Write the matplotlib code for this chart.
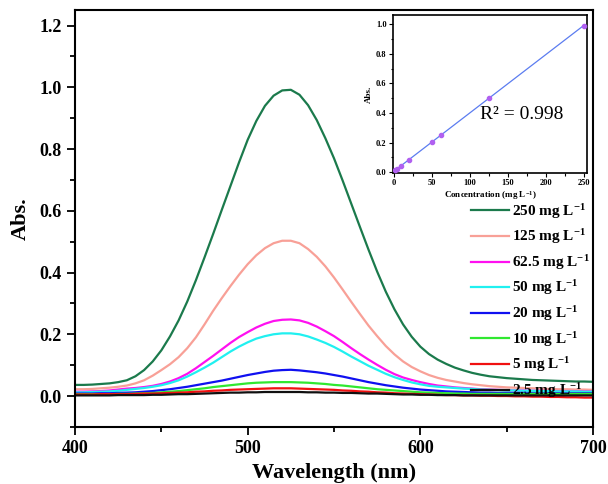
import numpy as np
import matplotlib
matplotlib.use("Agg")
import matplotlib.pyplot as plt
from matplotlib.ticker import MultipleLocator

plt.rcParams['font.family'] = ['Liberation Serif', 'DejaVu Serif']
plt.rcParams['font.weight'] = 'bold'
plt.rcParams['mathtext.fontset'] = 'custom'
plt.rcParams['mathtext.rm'] = 'Liberation Serif:bold'
plt.rcParams['mathtext.it'] = 'Liberation Serif:bold:italic'
plt.rcParams['mathtext.bf'] = 'Liberation Serif:bold'
plt.rcParams['mathtext.default'] = 'rm'

# wavelength grid, 400..700 nm every 5 nm
wavelength = list(range(400, 701, 5))

abs_250 = [0.036, 0.036, 0.037, 0.039, 0.041, 0.045, 0.051, 0.064, 0.084, 0.112,
           0.148, 0.193, 0.245, 0.306, 0.375, 0.449, 0.525, 0.603, 0.680, 0.757,
           0.830, 0.891, 0.940, 0.973, 0.990, 0.992, 0.976, 0.942, 0.894, 0.835,
           0.770, 0.698, 0.623, 0.548, 0.474, 0.403, 0.338, 0.281, 0.232, 0.192,
           0.160, 0.136, 0.118, 0.104, 0.092, 0.083, 0.075, 0.069, 0.064, 0.061,
           0.058, 0.056, 0.054, 0.052, 0.051, 0.050, 0.049, 0.048, 0.047, 0.047,
           0.046]
abs_125 = [0.022, 0.022, 0.023, 0.025, 0.027, 0.030, 0.034, 0.041, 0.051, 0.066,
           0.084, 0.103, 0.126, 0.155, 0.190, 0.232, 0.276, 0.317, 0.356, 0.393,
           0.427, 0.456, 0.479, 0.495, 0.503, 0.503, 0.495, 0.476, 0.451, 0.420,
           0.384, 0.345, 0.305, 0.266, 0.228, 0.194, 0.162, 0.135, 0.112, 0.094,
           0.080, 0.068, 0.059, 0.052, 0.047, 0.042, 0.038, 0.035, 0.032, 0.030,
           0.028, 0.027, 0.026, 0.025, 0.024, 0.023, 0.022, 0.022, 0.021, 0.021,
           0.020]
abs_62_5 = [0.014, 0.014, 0.015, 0.016, 0.018, 0.021, 0.024, 0.026, 0.029, 0.033,
            0.039, 0.047, 0.058, 0.072, 0.090, 0.110, 0.130, 0.151, 0.172, 0.191,
            0.207, 0.222, 0.234, 0.243, 0.247, 0.248, 0.245, 0.237, 0.225, 0.210,
            0.194, 0.175, 0.155, 0.136, 0.118, 0.101, 0.085, 0.071, 0.060, 0.052,
            0.045, 0.039, 0.034, 0.031, 0.028, 0.026, 0.024, 0.022, 0.021, 0.020,
            0.019, 0.018, 0.018, 0.017, 0.017, 0.016, 0.016, 0.016, 0.016, 0.015,
            0.015]
abs_50 = [0.012, 0.012, 0.013, 0.014, 0.015, 0.017, 0.020, 0.023, 0.026, 0.030,
          0.035, 0.042, 0.051, 0.063, 0.077, 0.092, 0.108, 0.126, 0.144, 0.160,
          0.174, 0.186, 0.194, 0.200, 0.203, 0.203, 0.200, 0.193, 0.183, 0.172,
          0.159, 0.144, 0.128, 0.113, 0.098, 0.085, 0.072, 0.061, 0.052, 0.044,
          0.038, 0.033, 0.030, 0.028, 0.026, 0.024, 0.023, 0.021, 0.020, 0.019,
          0.018, 0.018, 0.017, 0.017, 0.016, 0.016, 0.015, 0.015, 0.015, 0.014,
          0.014]
abs_20 = [0.008, 0.008, 0.008, 0.009, 0.009, 0.010, 0.011, 0.012, 0.014, 0.016,
          0.019, 0.022, 0.026, 0.030, 0.035, 0.040, 0.045, 0.050, 0.056, 0.062,
          0.068, 0.073, 0.078, 0.082, 0.084, 0.085, 0.083, 0.080, 0.077, 0.073,
          0.068, 0.063, 0.057, 0.051, 0.045, 0.040, 0.035, 0.031, 0.027, 0.024,
          0.021, 0.019, 0.017, 0.015, 0.014, 0.013, 0.012, 0.011, 0.011, 0.010,
          0.010, 0.010, 0.010, 0.009, 0.009, 0.009, 0.009, 0.009, 0.009, 0.009,
          0.009]
abs_10 = [0.006, 0.006, 0.006, 0.006, 0.006, 0.007, 0.007, 0.008, 0.009, 0.010,
          0.012, 0.014, 0.016, 0.019, 0.022, 0.025, 0.029, 0.032, 0.035, 0.038,
          0.041, 0.043, 0.044, 0.045, 0.045, 0.045, 0.044, 0.043, 0.041, 0.039,
          0.036, 0.034, 0.031, 0.028, 0.025, 0.022, 0.020, 0.018, 0.016, 0.014,
          0.012, 0.011, 0.010, 0.009, 0.008, 0.008, 0.007, 0.007, 0.007, 0.007,
          0.007, 0.007, 0.007, 0.007, 0.007, 0.007, 0.007, 0.007, 0.007, 0.007,
          0.007]
abs_5 = [0.005, 0.005, 0.005, 0.006, 0.006, 0.006, 0.006, 0.007, 0.008, 0.008,
         0.009, 0.010, 0.011, 0.012, 0.014, 0.015, 0.017, 0.018, 0.020, 0.021,
         0.022, 0.023, 0.024, 0.025, 0.025, 0.025, 0.024, 0.023, 0.022, 0.021,
         0.020, 0.018, 0.017, 0.015, 0.014, 0.012, 0.011, 0.009, 0.008, 0.007,
         0.006, 0.005, 0.004, 0.003, 0.003, 0.002, 0.002, 0.001, 0.001, 0.000,
         0.000, -0.001, -0.001, -0.002, -0.002, -0.003, -0.003, -0.004, -0.004, -0.005,
         -0.005]
abs_2_5 = [0.002, 0.002, 0.002, 0.002, 0.002, 0.003, 0.003, 0.003, 0.003, 0.004,
           0.004, 0.005, 0.006, 0.006, 0.007, 0.008, 0.009, 0.010, 0.011, 0.011,
           0.012, 0.012, 0.013, 0.013, 0.013, 0.013, 0.013, 0.012, 0.012, 0.011,
           0.011, 0.010, 0.010, 0.009, 0.008, 0.008, 0.007, 0.006, 0.005, 0.005,
           0.004, 0.004, 0.003, 0.003, 0.003, 0.002, 0.002, 0.002, 0.002, 0.002,
           0.002, 0.002, 0.002, 0.002, 0.002, 0.002, 0.002, 0.002, 0.002, 0.002,
           0.002]

labels = ['250 mg L$^{-1}$', '125 mg L$^{-1}$', '62.5 mg L$^{-1}$', '50 mg L$^{-1}$',
          '20 mg L$^{-1}$', '10 mg L$^{-1}$', '5 mg L$^{-1}$', '2.5 mg L$^{-1}$']
series = [abs_250, abs_125, abs_62_5, abs_50, abs_20, abs_10, abs_5, abs_2_5]
colors = ['#1b7a4c', '#f8a097', '#ff10f0', '#20f0f0', '#1010f0', '#30e830', '#f01010', '#101010']

conc = [2.5, 5, 10, 20, 50, 62.5, 125, 250]
conc_abs = [0.012, 0.025, 0.045, 0.085, 0.205, 0.248, 0.503, 0.990]

fig = plt.figure(figsize=(6.08, 4.84), dpi=100)
ax = fig.add_axes([0.1234, 0.118, 0.8519, 0.861])
for y, c, lab in zip(series, colors, labels):
    ax.plot(wavelength, y, color=c, lw=1.6, label=lab)

ax.set_xlim(400, 700)
ax.xaxis.set_major_locator(MultipleLocator(100))
ax.xaxis.set_minor_locator(MultipleLocator(50))
ax.yaxis.set_minor_locator(MultipleLocator(0.1))
ax.tick_params(which='both', direction='out', width=1.3, top=False, right=False, labelsize=13)
ax.tick_params(which='major', length=6)
ax.tick_params(which='minor', length=3.5)
for s in ax.spines.values():
    s.set_linewidth(1.5)
yt = [0.0, 0.2, 0.4, 0.6, 0.8, 1.0, 1.2]
ax.set_yticks(yt)
ax.set_yticklabels([f'{v:.1f}' for v in yt])
ax.set_ylim(-0.1, 1.25)
ax.set_xlabel('Wavelength (nm)', fontsize=16, fontweight='bold', labelpad=4)
ax.set_ylabel('Abs.', fontsize=16, fontweight='bold', labelpad=6)

leg = ax.legend(loc='upper right', bbox_to_anchor=(1.005, 0.555), frameon=False,
                fontsize=11, handlelength=2.5, handletextpad=0.15, labelspacing=0.44,
                borderaxespad=0.0)

ins = fig.add_axes([0.646, 0.6426, 0.3195, 0.326])
coef = np.polyfit(conc, conc_abs, 1)
xf = np.array([0, 250])
ins.plot(xf, np.polyval(coef, xf), color='#5b7cf0', lw=0.9, zorder=2)
ins.plot(conc, conc_abs, 'o', color='#b060f0', ms=3, zorder=3)
ins.set_xlim(-1, 254)
ins.xaxis.set_major_locator(MultipleLocator(50))
ins.xaxis.set_minor_locator(MultipleLocator(25))
ins.yaxis.set_minor_locator(MultipleLocator(0.1))
ins.tick_params(which='both', direction='out', width=0.8, top=False, right=False, labelsize=6, pad=1.5)
ins.tick_params(which='major', length=3)
ins.tick_params(which='minor', length=1.8)
for s in ins.spines.values():
    s.set_linewidth(1.2)
iyt = [0.0, 0.2, 0.4, 0.6, 0.8, 1.0]
ins.set_yticks(iyt)
ins.set_yticklabels([f'{v:.1f}' for v in iyt])
ins.set_ylim(-0.005, 1.06)
ins.set_xlabel('Concentration (mg L$^{-1}$)', fontsize=6.5, fontweight='bold', labelpad=1)
ins.set_ylabel('Abs.', fontsize=6.5, fontweight='bold', labelpad=2)
ins.text(0.45, 0.37, 'R² = 0.998', transform=ins.transAxes, fontsize=14, fontweight='normal',
         va='center', ha='left')

fig.savefig('out.png', dpi=100)
